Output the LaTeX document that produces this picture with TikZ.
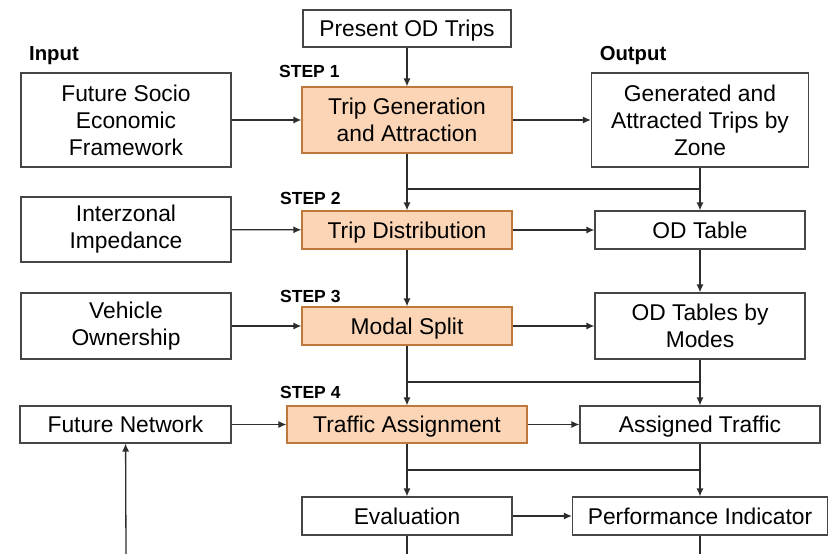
\documentclass[tikz,border=0pt]{standalone}
\usepackage{fontspec}
\setmainfont{Liberation Sans}
\usetikzlibrary{arrows.meta}

\definecolor{stepfill}{RGB}{251,213,181}
\definecolor{stepedge}{RGB}{190,120,60}
\definecolor{edgegray}{RGB}{70,70,70}
\definecolor{linegray}{RGB}{45,45,45}

\tikzset{
  box/.style={draw=edgegray, line width=1.1pt, fill=white, inner sep=0pt,
    align=center, font=\fontsize{22.8}{27}\selectfont},
  stepbox/.style={box, draw=stepedge, fill=stepfill},
  % single-line boxes: centre the capitals in the box
  oneline/.style={text height=16.3pt, text depth=0pt},
  flow/.style={draw=linegray, line width=1.3pt},
  arr/.style={flow, -{Latex[length=8pt,width=7pt]}},
  heading/.style={inner sep=0pt, font=\fontsize{20.3}{24}\selectfont\bfseries},
  steplabel/.style={inner sep=0pt, anchor=west, font=\fontsize{17.5}{20}\selectfont\bfseries}
}

\begin{document}
\begin{tikzpicture}[x=1pt, y=-1pt]
\useasboundingbox (0,0) rectangle (836,554);

% column headings and step labels
\node[heading] (lin) at (54,56) {Input};
\node[heading] (lout) at (633,56) {Output};
\node[steplabel] (s1) at (279,71) {STEP 1};
\node[steplabel] (s2) at (280,198) {STEP 2};
\node[steplabel] (s3) at (280,296) {STEP 3};
\node[steplabel] (s4) at (280,392) {STEP 4};

% boxes
\node[box, oneline, minimum width=208pt, minimum height=37pt] (pod) at (407,28.5) {Present OD Trips};
\node[box, minimum width=210pt, minimum height=94pt] (fse) at (126,120) {Future Socio\\Economic\\Framework};
\node[stepbox, minimum width=210pt, minimum height=66pt] (tga) at (407,120) {Trip Generation\\and Attraction};
\node[box, minimum width=217pt, minimum height=94pt] (gat) at (700,120) {Generated and\\Attracted Trips by\\Zone};

\node[box, minimum width=210pt, minimum height=65pt] (iz) at (126,229.5) {Interzonal\\Impedance};
\node[stepbox, oneline, minimum width=210pt, minimum height=38pt] (td) at (407,230) {Trip Distribution};
\node[box, oneline, minimum width=210pt, minimum height=38pt] (odt) at (700,230) {OD Table};

\node[box, minimum width=210pt, minimum height=66pt] (vo) at (126,326) {Vehicle\\Ownership};
\node[stepbox, oneline, minimum width=210pt, minimum height=38pt] (ms) at (407,326) {Modal Split};
\node[box, minimum width=210pt, minimum height=66pt] (odm) at (700,326) {OD Tables by\\Modes};

\node[box, oneline, minimum width=211pt, minimum height=37pt] (fn) at (125.5,424.5) {Future Network};
\node[stepbox, oneline, minimum width=240pt, minimum height=37pt] (ta) at (407,424.5) {Traffic Assignment};
\node[box, oneline, minimum width=240pt, minimum height=37pt] (at) at (700,424.5) {Assigned Traffic};

\node[box, oneline, minimum width=210pt, minimum height=38pt] (ev) at (407,516) {Evaluation};
\node[box, oneline, minimum width=255pt, minimum height=38pt] (pi) at (700,516) {Performance Indicator};

% junction points of the merging lines
\coordinate (j1l) at (407,189);
\coordinate (j1r) at (700,189);
\coordinate (j2l) at (407,382);
\coordinate (j2r) at (700,382);
\coordinate (j3l) at (407,470);
\coordinate (j3r) at (700,470);
\coordinate (b1) at (407,554);
\coordinate (b2) at (700,554);
\coordinate (b3) at (126,554);

% step 1
\draw[arr] (pod) -- (tga);
\draw[arr] (fse) -- (tga);
\draw[arr] (tga) -- (gat);
\draw[flow] (j1l) -- (j1r);
\draw[arr] (tga) -- (td);
\draw[arr] (gat) -- (odt);

% step 2
\draw[arr] (iz) -- (td);
\draw[arr] (td) -- (odt);
\draw[arr] (td) -- (ms);
\draw[arr] (odt) -- (odm);

% step 3
\draw[arr] (vo) -- (ms);
\draw[arr] (ms) -- (odm);
\draw[flow] (j2l) -- (j2r);
\draw[arr] (ms) -- (ta);
\draw[arr] (odm) -- (at);

% step 4
\draw[arr] (fn) -- (ta);
\draw[arr] (ta) -- (at);
\draw[flow] (j3l) -- (j3r);
\draw[arr] (ta) -- (ev);
\draw[arr] (at) -- (pi);

% evaluation and feedback
\draw[arr] (ev) -- (pi);
\draw[flow] (ev) -- (b1);
\draw[flow] (pi) -- (b2);
\draw[arr] (b3) -- (fn);
\end{tikzpicture}
\end{document}
